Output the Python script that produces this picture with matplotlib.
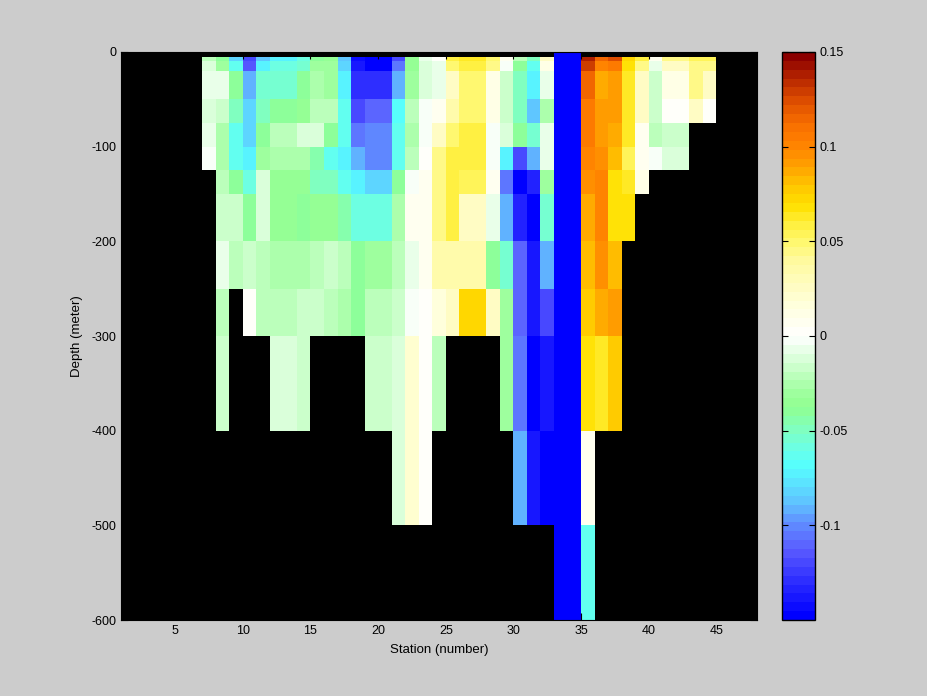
import numpy as np
import matplotlib
matplotlib.use("Agg")
from matplotlib import pyplot as plt
from matplotlib.colors import LinearSegmentedColormap, Normalize

plt.rcParams['font.family'] = ['Liberation Sans', 'DejaVu Sans']
plt.rcParams['axes.unicode_minus'] = False

nan = np.nan
B = -0.16  # colonne hors echelle (bleu)

# bords des cellules : stations 7..45, profondeurs en metres
station_edges = list(range(7, 46))
depth_edges = [0, 5, 10, 20, 50, 75, 100, 125, 150, 200, 250, 300, 400, 500, 600]

# une liste par couche, stations 7..44
d0 = [nan] * 26 + [B, B] + [nan] * 10
d5 = [-0.02, -0.04, -0.08, -0.12, -0.085, -0.072, -0.072, -0.06, -0.038, -0.036,
      -0.085, -0.145, -0.15, -0.15, -0.12, -0.036, -0.005, 0.002, 0.058, 0.062,
      0.062, 0.048, 0.005, -0.02, -0.047, 0.028, B, B, 0.14, 0.113,
      0.124, 0.074, 0.058, 0.005, 0.045, 0.045, 0.055, 0.055]
d10 = [-0.01, -0.03, -0.062, -0.115, -0.072, -0.058, -0.058, -0.052, -0.03, -0.03,
       -0.08, -0.14, -0.147, -0.147, -0.105, -0.033, -0.012, -0.007, 0.048, 0.06,
       0.06, 0.045, -0.002, -0.038, -0.062, 0.012, B, B, 0.13, 0.1,
       0.104, 0.068, 0.045, -0.006, 0.028, 0.028, 0.045, 0.045]
d20 = [-0.005, -0.007, -0.04, -0.09, -0.055, -0.055, -0.055, -0.04, -0.025, -0.03,
       -0.072, -0.13, -0.13, -0.13, -0.09, -0.03, -0.01, -0.007, 0.028, 0.05,
       0.05, 0.012, -0.015, -0.05, -0.072, -0.008, B, B, 0.113, 0.087,
       0.091, 0.062, 0.028, -0.015, 0.012, 0.012, 0.045, 0.028]
d50 = [-0.01, -0.015, -0.047, -0.08, -0.047, -0.038, -0.038, -0.035, -0.02, -0.02,
       -0.062, -0.12, -0.112, -0.112, -0.068, -0.02, -0.002, 0.005, 0.037, 0.05,
       0.05, 0.012, -0.015, -0.05, -0.088, -0.027, B, B, 0.104, 0.091,
       0.091, 0.062, 0.028, -0.015, 0.002, 0.002, 0.025, 0.002]
d75 = [-0.005, -0.027, -0.062, -0.08, -0.04, -0.02, -0.02, -0.012, -0.01, -0.04,
       -0.062, -0.105, -0.1, -0.1, -0.062, -0.027, -0.004, 0.028, 0.048, 0.058,
       0.058, -0.003, -0.01, -0.038, -0.055, -0.008, B, B, 0.104, 0.091,
       0.087, 0.062, 0.005, -0.02, -0.015, -0.015, nan, nan]
d100 = [-0.002, -0.027, -0.062, -0.075, -0.03, -0.027, -0.027, -0.027, -0.045, -0.062,
        -0.072, -0.09, -0.1, -0.1, -0.062, -0.02, 0.002, 0.045, 0.058, 0.06,
        0.06, -0.003, -0.072, -0.12, -0.09, -0.008, B, B, 0.1, 0.097,
        0.08, 0.055, 0.005, -0.003, -0.01, -0.01, nan, nan]
d125 = [nan, -0.02, -0.038, -0.06, -0.01, -0.033, -0.033, -0.036, -0.05, -0.05,
        -0.062, -0.072, -0.08, -0.08, -0.04, -0.004, 0.005, 0.045, 0.058, 0.055,
        0.055, 0.005, -0.105, -0.15, -0.135, -0.03, B, B, 0.094, 0.1,
        0.07, 0.062, 0.012, nan, nan, nan, nan, nan]
d150 = [nan, -0.015, -0.015, -0.038, -0.012, -0.033, -0.033, -0.04, -0.033, -0.033,
        -0.045, -0.058, -0.058, -0.058, -0.027, 0.005, 0.008, 0.045, 0.058, 0.028,
        0.028, -0.008, -0.09, -0.135, -0.15, -0.052, B, B, 0.089, 0.1,
        0.07, 0.068, nan, nan, nan, nan, nan, nan]
d200 = [nan, -0.005, -0.02, -0.015, -0.02, -0.027, -0.027, -0.027, -0.02, -0.015,
        -0.02, -0.04, -0.03, -0.03, -0.02, -0.007, 0.008, 0.033, 0.033, 0.033,
        0.033, -0.038, -0.052, -0.112, -0.14, -0.09, B, B, 0.083, 0.094,
        0.08, nan, nan, nan, nan, nan, nan, nan]
d250 = [nan, -0.02, nan, 0.004, -0.02, -0.02, -0.02, -0.015, -0.015, -0.02,
        -0.027, -0.04, -0.02, -0.02, -0.015, -0.004, 0.003, 0.015, 0.028, 0.074,
        0.074, 0.025, -0.03, -0.112, -0.14, -0.12, B, B, 0.077, 0.085,
        0.091, nan, nan, nan, nan, nan, nan, nan]
d300 = [nan, -0.015, nan, nan, nan, -0.01, -0.01, -0.015, nan, nan,
        nan, nan, -0.015, -0.015, -0.01, 0.02, 0.003, -0.02, nan, nan,
        nan, nan, -0.03, -0.105, -0.15, -0.14, B, B, 0.068, 0.065,
        0.077, nan, nan, nan, nan, nan, nan, nan]
d400 = [nan] * 14 + [-0.01, 0.02, 0.003] + [nan] * 6 + [-0.09, -0.14, -0.147, B, B, 0.005] + [nan] * 9
d500 = [nan] * 26 + [B, B, -0.065] + [nan] * 9

rows = [d0, d5, d10, d20, d50, d75, d100, d125, d150, d200, d250, d300, d400, d500]
values = np.ma.masked_invalid(np.array(rows, dtype=float))

# palette : bleu -> cyan -> vert -> blanc -> jaune -> orange -> rouge sombre
anchors = [(-0.15, '#0000FF'), (-0.13, '#3030FF'), (-0.115, '#5A5AFF'), (-0.1, '#6090FF'),
           (-0.09, '#60C0FF'), (-0.08, '#5CE0FF'), (-0.07, '#55FFFF'), (-0.06, '#6CFFE4'),
           (-0.05, '#80FFC0'), (-0.038, '#90FF90'), (-0.03, '#A0FFA0'), (-0.02, '#C0FFC0'),
           (-0.01, '#E0FFE0'), (0.0, '#FFFFFF'), (0.015, '#FFFFE0'), (0.028, '#FFFCC0'),
           (0.04, '#FFFAA0'), (0.05, '#FFF870'), (0.06, '#FFF040'), (0.07, '#FFE000'),
           (0.08, '#FFC800'), (0.09, '#FFA400'), (0.097, '#FF9000'), (0.104, '#FF8000'),
           (0.113, '#F87000'), (0.125, '#E05000'), (0.14, '#B02000'), (0.15, '#8B0000')]
vmin, vmax = -0.15, 0.15
cmap = LinearSegmentedColormap.from_list(
    'section', [((v - vmin) / (vmax - vmin), c) for v, c in anchors], N=64)
cmap.set_bad('black')
norm = Normalize(vmin, vmax)

fig = plt.figure(figsize=(9.28, 6.96), dpi=100, facecolor='#CCCCCC')
ax = fig.add_axes([121 / 928, 76 / 696, 636 / 928, 568 / 696])
ax.set_facecolor('black')

ax.pcolormesh(station_edges, -np.array(depth_edges), values, cmap=cmap, norm=norm)

ax.set_xlim(1, 48)
ax.set_ylim(-600, 0)
ax.set_xticks(range(5, 46, 5))
ax.set_yticks(range(-600, 1, 100))
ax.tick_params(direction='in', length=5, labelsize=9, top=True, right=True, color='black')
ax.set_xlabel('Station (number)', fontsize=9.5, labelpad=5)
ax.set_ylabel('Depth (meter)', fontsize=9.5, labelpad=6)
for s in ax.spines.values():
    s.set_color('black')

# barre de couleur
cax = fig.add_axes([782 / 928, 76 / 696, 33 / 928, 568 / 696])
cb = fig.colorbar(plt.cm.ScalarMappable(norm=norm, cmap=cmap), cax=cax)
cb.set_ticks([-0.1, -0.05, 0, 0.05, 0.1, 0.15])
cb.set_ticklabels(['-0.1', '-0.05', '0', '0.05', '0.1', '0.15'])
cax.tick_params(direction='in', length=4, labelsize=9, left=True, right=True, color='black')
cb.outline.set_edgecolor('black')
cb.outline.set_linewidth(1)

fig.savefig('out.png', dpi=100, facecolor=fig.get_facecolor())
